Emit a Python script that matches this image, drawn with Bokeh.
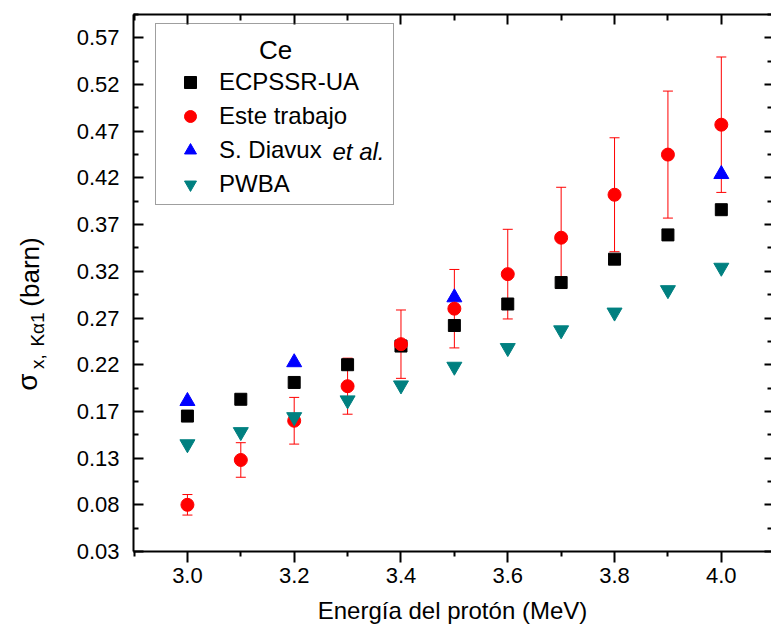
import math
from bokeh.plotting import figure
from bokeh.layouts import row
from bokeh.core.properties import value
from bokeh.models import (ColumnDataSource, FixedTicker, LinearAxis, Whisker, TeeHead,
                          Legend, LegendItem, PrintfTickFormatter, Range1d)
from bokeh.embed import file_html
from bokeh.resources import INLINE

# ---------------- data ----------------
energy = [3.0, 3.1, 3.2, 3.3, 3.4, 3.5, 3.6, 3.7, 3.8, 3.9, 4.0]
ecpssr_ua = [0.170, 0.188, 0.206, 0.225, 0.245, 0.267, 0.290, 0.313, 0.338, 0.364, 0.391]
este_trabajo = [0.075, 0.123, 0.165, 0.202, 0.247, 0.285, 0.322, 0.361, 0.407, 0.450, 0.482]
este_err = [0.011, 0.0185, 0.025, 0.030, 0.0366, 0.042, 0.048, 0.054, 0.061, 0.068, 0.0725]
pwba = [0.140, 0.153, 0.169, 0.187, 0.203, 0.223, 0.243, 0.262, 0.281, 0.305, 0.329]
diavux_energy = [3.0, 3.2, 3.5, 4.0]
diavux = [0.186, 0.2275, 0.297, 0.429]

x_major = [3.0, 3.2, 3.4, 3.6, 3.8, 4.0]
x_minor = [2.9, 3.1, 3.3, 3.5, 3.7, 3.9, 4.1]
y_major = [0.025, 0.075, 0.125, 0.175, 0.225, 0.275, 0.325, 0.375, 0.425, 0.475, 0.525, 0.575]
y_minor = [0.05, 0.1, 0.15, 0.2, 0.25, 0.3, 0.35, 0.4, 0.45, 0.5, 0.55, 0.6]
y_labels = ["0.03", "0.08", "0.13", "0.17", "0.22", "0.27", "0.32", "0.37",
            "0.42", "0.47", "0.52", "0.57"]

series_names = ["ECPSSR-UA", "Este trabajo", "S. Diavux", "PWBA"]
legend_title = "Ce"
x_title = "Energía del protón (MeV)"
y_title_parts = ["σ", "x,", "Kα1", "(barn)"]

FONT = "Liberation Sans"
H = 633
LW = 55                 # width of the strip holding the y-axis title
F_TOP, F_BOT = 14, 551  # frame top / bottom in canvas pixels

# ---------------- y-axis title strip ----------------
yl = figure(width=LW, height=H, output_backend="svg", toolbar_location=None,
            x_range=Range1d(0, LW), y_range=Range1d(H - F_BOT, H - F_TOP),
            min_border_left=0, min_border_right=0, min_border_top=F_TOP,
            min_border_bottom=H - F_BOT, x_axis_location=None, y_axis_location=None)
yl.outline_line_color = None
yl.grid.visible = False
yl.background_fill_color = "white"
yl.border_fill_color = "white"

def cy(py):
    return H - py

# (centre x, centre y, font size) of each piece, canvas pixels
pieces = [(26.6, 381.5, "28px"), (37.3, 361.0, "19px"),
          (37.3, 329.0, "19px"), (29.2, 271.5, "26px")]
for txt, (cx_, cy_, fs) in zip(y_title_parts, pieces):
    yl.text(x=[cx_], y=[cy(cy_)], text=[txt], angle=math.pi / 2,
            text_font=value(FONT), text_font_size=value(fs), text_align="center",
            text_baseline="middle", text_color="black")

# ---------------- main figure ----------------
X0, X1 = 2.899, 4.094
Y0, Y1 = 0.025, 0.6
p = figure(width=771 - LW, height=H, output_backend="svg", toolbar_location=None,
           x_range=Range1d(X0, X1), y_range=Range1d(Y0, Y1),
           min_border_left=133 - LW, min_border_right=0, min_border_top=F_TOP,
           min_border_bottom=H - F_BOT)
p.outline_line_color = None
p.xgrid.visible = False
p.ygrid.visible = False
p.background_fill_color = "white"
p.border_fill_color = "white"

xt = FixedTicker(ticks=x_major, minor_ticks=x_minor)
yt = FixedTicker(ticks=y_major, minor_ticks=y_minor)

xa = p.xaxis[0]
xa.ticker = xt
xa.formatter = PrintfTickFormatter(format="%.1f")
xa.major_tick_out = 11
xa.major_tick_in = 0
xa.minor_tick_out = 5
xa.minor_tick_in = 0
xa.axis_line_width = 2
xa.major_tick_line_width = 2
xa.minor_tick_line_width = 2
xa.major_label_text_font = FONT
xa.major_label_text_font_size = "22px"
xa.major_label_text_color = "black"
xa.major_label_standoff = 5
xa.axis_label = x_title
xa.axis_label_text_font = FONT
xa.axis_label_text_font_size = "24px"
xa.axis_label_text_font_style = "normal"
xa.axis_label_text_color = "black"
xa.axis_label_standoff = 11

ya = p.yaxis[0]
ya.ticker = yt
ya.major_label_overrides = {v: s for v, s in zip(y_major, y_labels)}
ya.major_tick_out = 0
ya.major_tick_in = 10
ya.minor_tick_out = 0
ya.minor_tick_in = 5
ya.axis_line_width = 2
ya.major_tick_line_width = 2
ya.minor_tick_line_width = 2
ya.major_label_text_font = FONT
ya.major_label_text_font_size = "22px"
ya.major_label_text_color = "black"
ya.major_label_standoff = 14

top = LinearAxis(ticker=xt, major_tick_in=10, major_tick_out=0, minor_tick_in=6,
                 minor_tick_out=0, axis_line_width=2, major_tick_line_width=2,
                 minor_tick_line_width=2, major_label_text_font_size="0px",
                 major_label_text_color=None, major_label_standoff=0)
p.add_layout(top, "above")
right = LinearAxis(ticker=yt, major_tick_in=7, major_tick_out=0, minor_tick_in=4,
                   minor_tick_out=0, axis_line_color=None, major_tick_line_width=2,
                   minor_tick_line_width=2, major_label_text_font_size="0px",
                   major_label_text_color=None, major_label_standoff=0)
p.add_layout(right, "right")

# ---------------- data marks ----------------
r_sq = p.scatter(energy, ecpssr_ua, marker="square", size=12, color="black")
r_tri = p.scatter(diavux_energy, diavux, marker="triangle", size=15, color="#0000FF")
r_circ = p.scatter(energy, este_trabajo, marker="circle", size=13, color="#FF0000")
r_inv = p.scatter(energy, pwba, marker="inverted_triangle", size=15, color="#008080")

err_src = ColumnDataSource(dict(
    x=energy,
    upper=[v + e for v, e in zip(este_trabajo, este_err)],
    lower=[v - e for v, e in zip(este_trabajo, este_err)],
))
p.add_layout(Whisker(base="x", upper="upper", lower="lower", source=err_src,
                     line_color="#FF0000", line_width=1,
                     upper_head=TeeHead(size=10, line_color="#FF0000", line_width=1),
                     lower_head=TeeHead(size=10, line_color="#FF0000", line_width=1)))

# ---------------- legend ----------------
legend = Legend(items=[LegendItem(label=series_names[0], renderers=[r_sq]),
                       LegendItem(label=series_names[1], renderers=[r_circ]),
                       LegendItem(label=series_names[2], renderers=[r_tri]),
                       LegendItem(label=series_names[3], renderers=[r_inv])],
                location=(22, 346), title=" ", title_text_font_size="25px",
                title_text_font=FONT, title_standoff=9,
                padding=5, margin=0, glyph_width=58, glyph_height=30, spacing=4,
                label_standoff=0, label_width=169,
                label_text_font=FONT, label_text_font_size="24px",
                label_text_color="black",
                border_line_color="#404040", border_line_width=1,
                background_fill_alpha=0)
p.add_layout(legend)

# frame geometry (canvas pixels) used to place the legend's extra texts
FL, FW = 133, 638
FH = F_BOT - F_TOP
def dx(px):
    return X0 + (px - FL) * (X1 - X0) / FW
def dy(py):
    return Y0 + (F_BOT - py) * (Y1 - Y0) / FH

p.text(x=[dx(275)], y=[dy(49)], text=[legend_title], text_font=value(FONT),
       text_font_size=value("26px"), text_align="center", text_baseline="middle",
       text_color="black")
p.text(x=[dx(332)], y=[dy(151)], text=["et al."], text_font=value(FONT),
       text_font_size=value("24px"), text_font_style="italic", text_align="left",
       text_baseline="middle", text_color="black")

layout = row(yl, p, spacing=0)
open("out.html", "w").write(file_html(layout, INLINE))
